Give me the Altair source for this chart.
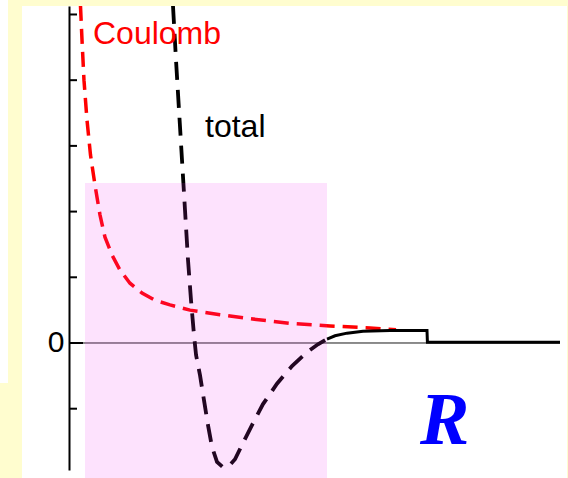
import altair as alt
import pandas as pd

# Coulomb repulsion (dashed red)
coul_r = [0.234, 0.265, 0.305, 0.367, 0.438, 0.530, 0.631, 0.733, 0.876, 1.039, 1.242,
          1.487, 1.752, 2.057, 2.464, 3.075, 3.686, 4.501, 5.316, 6.130, 6.660]
coul_v = [5.13, 4.61, 4.00, 3.39, 2.86, 2.40, 1.95, 1.61, 1.34, 1.11, 0.91,
          0.76, 0.65, 0.58, 0.50, 0.43, 0.37, 0.30, 0.26, 0.23, 0.20]

# Total potential inside the nucleus (dashed black)
tot_r = [2.118, 2.179, 2.240, 2.301, 2.363, 2.424, 2.485, 2.546, 2.587, 2.668, 2.749,
         2.831, 2.912, 3.014, 3.136, 3.259, 3.381, 3.544, 3.727, 3.951, 4.236,
         4.542, 4.847, 5.071, 5.255]
tot_v = [5.13, 4.31, 3.55, 2.79, 2.02, 1.26, 0.65, 0.12, -0.18, -0.49, -0.87,
         -1.25, -1.58, -1.81, -1.89, -1.87, -1.77, -1.52, -1.25, -0.93, -0.62,
         -0.35, -0.14, -0.02, 0.06]

# Total potential outside (solid black, barrier then drop)
out_r = [5.255, 5.418, 5.662, 5.988, 6.538, 7.291, 7.300, 10.0]
out_v = [0.06, 0.11, 0.15, 0.18, 0.19, 0.19, 0.01, 0.01]

tick_vals = [-1, 1, 2, 3, 4, 5]

# Nuclear region
region_r = [0.326, 5.255]
region_v = [-2.055, 2.435]

label_text = ["Coulomb", "total"]
label_r = [0.489, 2.77]
label_v = [4.55, 3.14]
label_color = ["#FF0000", "#000000"]

W, H = 491, 464
xs = alt.Scale(domain=[0, 10], nice=False, zero=False)
ys = alt.Scale(domain=[-1.933, 5.129], nice=False, zero=False)

# One shared y axis: only the zero label, no ticks (ticks drawn inward below)
yax = alt.Axis(values=[0], labelExpr="datum.value == 0 ? '0' : ''",
               ticks=False, grid=False, domainColor="black", domainWidth=2,
               labelFont="Liberation Sans", labelFontSize=30,
               labelColor="black", labelPadding=5, title=None, zindex=1)


def X(field="r"):
    return alt.X(f"{field}:Q", scale=xs, axis=None)


def Y(field="v"):
    return alt.Y(f"{field}:Q", scale=ys, axis=yax)


one = pd.DataFrame({"a": [0]})

panel = alt.Chart(one).mark_rect(color="white").encode(
    x=alt.value(-47), x2=alt.value(498), y=alt.value(0), y2=alt.value(472)
)
panel2 = alt.Chart(one).mark_rect(color="white").encode(
    x=alt.value(-69), x2=alt.value(-61), y=alt.value(-6), y2=alt.value(377)
)

zero_line = alt.Chart(pd.DataFrame({"r": [0], "r2": [10], "v": [0]})).mark_rule(
    color="#1a1a1a", strokeWidth=1
).encode(x=X(), x2="r2:Q", y=Y())

coul = pd.DataFrame({"r": coul_r, "v": coul_v, "i": range(len(coul_r))})
coul_line = alt.Chart(coul).mark_line(
    color="#FF0000", strokeWidth=3.5, strokeDash=[15, 8], clip=True
).encode(x=X(), y=Y(), order="i:Q")

tot = pd.DataFrame({"r": tot_r, "v": tot_v, "i": range(len(tot_r))})
tot_line = alt.Chart(tot).mark_line(
    color="#000000", strokeWidth=3.8, strokeDash=[18, 10], clip=True
).encode(x=X(), y=Y(), order="i:Q")

out = pd.DataFrame({"r": out_r, "v": out_v, "i": range(len(out_r))})
out_line = alt.Chart(out).mark_line(color="#000000", strokeWidth=3).encode(
    x=X(), y=Y(), order="i:Q"
)

region = alt.Chart(pd.DataFrame({"r": [region_r[0]], "r2": [region_r[1]],
                                 "v": [region_v[0]], "v2": [region_v[1]]})).mark_rect(
    color="#EE33EE", opacity=0.14
).encode(x=X(), x2="r2:Q", y=Y(), y2="v2:Q")

ticks = alt.Chart(pd.DataFrame({"v": tick_vals})).mark_rule(color="black", strokeWidth=2).encode(
    y=Y(), x=alt.value(0), x2=alt.value(8)
)
zero_tick = alt.Chart(pd.DataFrame({"v": [0]})).mark_rule(color="black", strokeWidth=2).encode(
    y=Y(), x=alt.value(0), x2=alt.value(14)
)

labels = alt.Chart(pd.DataFrame({"t": label_text, "r": label_r, "v": label_v,
                                 "c": label_color})).mark_text(
    font="Liberation Sans", fontSize=32, align="left", baseline="alphabetic"
).encode(x=X(), y=Y(), text="t:N", color=alt.Color("c:N", scale=None))

r_label = alt.Chart(pd.DataFrame({"t": ["R"], "r": [7.15], "v": [-1.54]})).mark_text(
    font="Liberation Serif", fontSize=74, fontStyle="italic", fontWeight="bold",
    color="#0000FF", align="left", baseline="alphabetic"
).encode(x=X(), y=Y(), text="t:N")

chart = alt.layer(
    panel, panel2, zero_line, coul_line, tot_line, out_line, region,
    ticks, zero_tick, labels, r_label
).properties(
    width=W, height=H,
    background="#FFFDCF",
    padding={"left": 69, "top": 6, "right": 8, "bottom": 8},
    autosize=alt.AutoSizeParams(type="none"),
).configure_view(strokeWidth=0)

chart.save("out.html", embed_options={"renderer": "svg", "actions": False})
